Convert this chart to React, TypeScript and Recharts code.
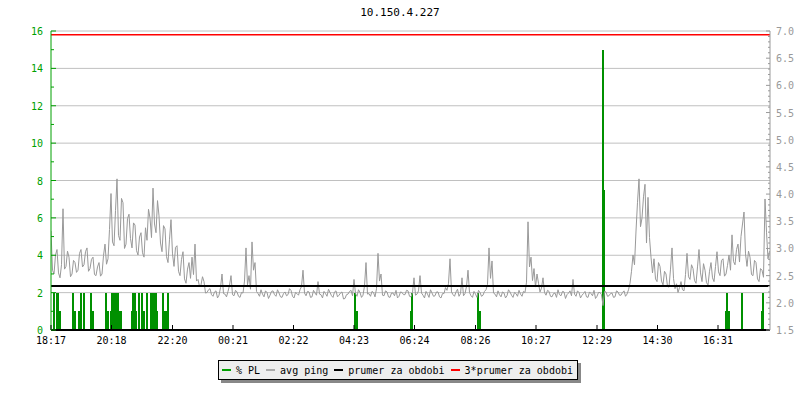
import React from 'react';
import { ComposedChart, Line, Bar, XAxis, YAxis, CartesianGrid, ReferenceLine } from 'recharts';

const GREEN = '#00a000';
const GRAY = '#999999';
const FONT = '"DejaVu Sans Mono", monospace';

// avg ping (ms), one sample every 3 minutes starting 18:17
const pingEvening = [
  3.32, 2.60, 2.53, 2.88, 2.98, 2.55, 2.46, 2.70, 3.73, 2.62,
  2.67, 2.95, 2.84, 2.48, 2.53, 2.78, 2.74, 2.56, 2.60, 2.91,
  2.98, 2.66, 2.70, 2.94, 3.01, 2.58, 2.63, 2.80, 2.84, 2.52,
  2.50, 2.66, 2.74, 2.49, 2.53, 2.87, 3.08, 2.71, 2.81, 3.35,
  4.01, 3.12, 3.05, 3.70, 4.28, 3.24, 3.15, 3.92, 3.84, 3.00,
  3.08, 3.55, 3.63, 3.18, 3.01, 3.47, 3.43, 2.96, 2.88, 3.21,
  3.29, 2.92, 2.84, 3.38, 3.15, 3.72, 3.56, 3.20, 4.11, 3.45,
  3.29, 3.88, 3.60, 3.10, 2.94, 3.42, 3.36, 2.85, 2.74, 3.17,
  3.53, 2.90, 2.67, 3.02, 3.05, 2.58, 2.50, 2.80, 2.94, 2.44,
  2.36, 2.62, 2.74, 2.45, 2.84, 2.52, 3.08, 2.40, 2.43, 2.30,
  2.33, 2.48, 2.39, 2.18,
];
const pingNight = [
  2.19, 2.24, 2.26, 2.15, 2.12, 2.20, 2.22, 2.09, 2.14, 2.28,
  2.53, 2.17, 2.16, 2.11, 2.21, 2.32, 2.50, 2.15, 2.13, 2.23,
  2.20, 2.12, 2.10, 2.19, 2.18, 2.40, 3.01, 2.33, 2.50, 2.25,
  3.12, 2.60, 2.74, 2.21, 2.17, 2.12, 2.24, 2.16, 2.11, 2.22,
  2.19, 2.08, 2.14, 2.21, 2.22, 2.15, 2.12, 2.24, 2.18, 2.11,
  2.10, 2.17, 2.20, 2.13, 2.15, 2.26, 2.23, 2.12, 2.09, 2.19,
  2.17, 2.14, 2.24, 2.30, 2.60, 2.18, 2.13, 2.21, 2.20, 2.10,
  2.11, 2.23, 2.18, 2.14, 2.39, 2.16, 2.15, 2.09, 2.21, 2.17,
  2.12, 2.25, 2.19, 2.13, 2.10, 2.20, 2.22, 2.11, 2.14, 2.18,
  2.20, 2.07, 2.08, 2.15, 2.16, 2.21, 2.23, 2.13, 2.43, 2.17,
  2.12, 2.24, 2.19, 2.10, 2.14, 2.31, 2.74, 2.16, 2.17, 2.12,
  2.21, 2.19, 2.11, 2.26, 2.91, 2.40, 2.53, 2.14, 2.13, 2.22,
  2.20, 2.11, 2.10, 2.18, 2.18, 2.13, 2.23, 2.09, 2.12, 2.20,
  2.19, 2.15, 2.15, 2.23, 2.22, 2.12,
];
const pingDay = [
  2.11, 2.19, 2.46, 2.14, 2.16, 2.22, 2.50, 2.18, 2.14, 2.09,
  2.21, 2.16, 2.10, 2.24, 2.18, 2.12, 2.13, 2.20, 2.20, 2.11,
  2.09, 2.17, 2.17, 2.28, 2.23, 2.36, 2.81, 2.20, 2.15, 2.12,
  2.20, 2.25, 2.12, 2.17, 2.46, 2.13, 2.17, 2.30, 2.60, 2.19,
  2.13, 2.10, 2.21, 2.16, 2.10, 2.23, 2.19, 2.12, 2.14, 2.21,
  2.24, 2.34, 3.01, 2.45, 2.77, 2.18, 2.16, 2.11, 2.22, 2.15,
  2.11, 2.20, 2.18, 2.09, 2.13, 2.24, 2.20, 2.14, 2.10, 2.19,
  2.17, 2.12, 2.23, 2.16, 2.12, 2.21, 2.19, 2.38, 3.49, 2.66,
  2.84, 2.41, 2.63, 2.29, 2.53, 2.36, 2.20, 2.27, 2.46, 2.19,
  2.14, 2.23, 2.21, 2.12, 2.11, 2.17, 2.18, 2.10, 2.24, 2.15,
  2.13, 2.21, 2.20, 2.08, 2.15, 2.18, 2.22, 2.13, 2.43, 2.16,
  2.12, 2.22, 2.19, 2.09, 2.14, 2.17, 2.21, 2.11, 2.10, 2.20,
  2.17, 2.13, 2.23, 2.08, 2.12, 2.19, 2.19, 2.15, 1.95, 2.21,
  2.20, 2.12, 2.13, 2.17, 2.18, 2.10, 2.11, 2.22, 2.20, 2.14,
  2.14, 2.19, 2.22, 2.12, 2.16, 2.24,
];
const pingAfternoon = [
  2.36, 2.58, 2.88, 2.70, 3.32, 3.85, 4.28, 3.40, 3.56, 3.95,
  4.18, 3.10, 3.94, 3.20, 2.84, 2.55, 2.81, 2.44, 2.39, 2.74,
  2.67, 2.40, 2.33, 2.58, 2.53, 2.30, 2.29, 2.62, 3.01, 2.45,
  2.26, 2.35, 2.19, 2.28, 2.39, 2.24, 2.22, 2.52, 2.91, 2.48,
  2.43, 2.70, 2.63, 2.41, 2.36, 2.66, 2.98, 2.55, 2.39, 2.72,
  2.60, 2.37, 2.33, 2.58, 2.74, 2.46, 2.39, 2.67, 2.94, 2.57,
  2.50, 2.78, 2.81, 2.49, 2.53, 2.69, 2.88, 2.60, 3.25, 2.76,
  2.70, 2.98, 3.08, 2.75, 3.22, 3.45, 3.67, 2.90, 2.67, 2.95,
  2.84, 2.52, 2.50, 2.78, 2.74, 2.44, 2.39, 2.63, 2.60, 2.47,
  3.91, 3.30, 2.81, 2.95,
];
const PING_STEP = 3;

// packet loss (%), minutes after 18:17 (same 3-minute grid)
const plMinutes = [
  6, 12, 15, 18, 45, 48, 57, 60, 66, 81, 84, 111, 114,
  120, 123, 126, 129, 132, 135, 138, 141, 162, 165, 168, 171, 177,
  183, 186, 192, 201, 204, 207, 210, 213, 225, 228, 231, 234,
  609, 612, 720, 723, 855, 858, 1104, 1107,
  1350, 1353, 1356, 1383, 1422, 1425,
];
const plValues = [
  2, 2, 2, 1, 2, 1, 1, 2, 2, 2, 1, 2, 1,
  1, 2, 2, 2, 2, 2, 1, 1, 1, 2, 2, 1, 2,
  2, 1, 2, 2, 2, 2, 2, 1, 2, 1, 1, 2,
  2, 1, 1, 2, 2, 1, 15, 7.5,
  1, 2, 1, 2, 1, 2,
];

const prumer = 2.31;

const timeTicks = [0, 121, 243, 364, 485, 606, 727, 849, 970, 1092, 1213, 1334];
const timeLabels = ['18:17', '20:18', '22:20', '00:21', '02:22', '04:23', '06:24', '08:26', '10:27', '12:29', '14:30', '16:31'];
const leftTicks = [0, 1, 2, 3, 4, 5, 6, 7, 8, 9, 10, 11, 12, 13, 14, 15, 16];
const gridValues = [2, 4, 6, 8, 10, 12, 14, 16];
const rightTicks = Array.from({ length: 56 }, (_, i) => Math.round((1.5 + i * 0.1) * 10) / 10);

const legendItems = [
  { label: '% PL', color: GREEN },
  { label: 'avg ping', color: '#aaaaaa' },
  { label: 'prumer za obdobi', color: '#000000' },
  { label: '3*prumer za obdobi', color: '#ff0000' },
];

const ping = [...pingEvening, ...pingNight, ...pingDay, ...pingAfternoon];
const rows = new Map<number, any>();
ping.forEach((v, i) => rows.set(i * PING_STEP, { t: i * PING_STEP, ping: v }));
plMinutes.forEach((m, i) => {
  const r = rows.get(m) || { t: m };
  r.pl = plValues[i];
  rows.set(m, r);
});
const data = [...rows.values()].sort((a, b) => a.t - b.t);

const TimeTick = (props: any) => {
  const { x, y, payload } = props;
  const idx = timeTicks.indexOf(payload.value);
  return (
    <g>
      <line x1={x} x2={x} y1={y - 5} y2={y} stroke="#000" />
      <text x={x} y={y + 14} textAnchor="middle" fontSize={10} fontFamily={FONT} fill="#000">
        {timeLabels[idx]}
      </text>
    </g>
  );
};

const LeftTick = (props: any) => {
  const { x, y, payload } = props;
  const major = payload.value % 2 === 0;
  return (
    <g>
      <line x1={x} x2={x + (major ? 5 : 3)} y1={y} y2={y} stroke={GREEN} />
      {major && (
        <text x={x - 8} y={y + 4} textAnchor="end" fontSize={10} fontFamily={FONT} fill={GREEN}>
          {payload.value}
        </text>
      )}
    </g>
  );
};

const RightTick = (props: any) => {
  const { x, y, payload } = props;
  const v = payload.value;
  const major = Math.abs(v * 2 - Math.round(v * 2)) < 1e-6;
  return (
    <g>
      <line x1={x - (major ? 4 : 2)} x2={x} y1={y} y2={y} stroke={GRAY} />
      {major && (
        <text x={x + 6} y={y + 4} textAnchor="start" fontSize={10} fontFamily={FONT} fill={GRAY}>
          {v.toFixed(1)}
        </text>
      )}
    </g>
  );
};

// rrdtool-like solid bar, snapped to whole pixels
const PlBar = (props: any) => {
  const { x, y, width, height } = props;
  const left = Math.floor(x + width / 2 - 0.5);
  return <rect x={left} y={y} width={2} height={height} fill="#009000" shapeRendering="crispEdges" />;
};

export default function App() {
  return (
    <div style={{ position: 'absolute', left: 0, top: 0, width: 800, height: 400, background: '#fff', fontFamily: FONT }}>
      <div style={{ position: 'absolute', left: 0, top: 6, width: 800, textAlign: 'center', fontSize: 11, lineHeight: '14px', color: '#000' }}>
        10.150.4.227
      </div>
      <ComposedChart width={800} height={400} data={data} margin={{ top: 31, right: 0, left: 0, bottom: 40 }}>
        <CartesianGrid yAxisId="left" vertical={false} stroke="#c0c0c0" horizontalValues={gridValues} />
        <XAxis
          dataKey="t"
          type="number"
          domain={[0, 1438]}
          ticks={timeTicks}
          interval={0}
          height={30}
          tickSize={0}
          tickMargin={0}
          tickLine={false}
          axisLine={{ stroke: '#000', strokeWidth: 2 }}
          tick={(p: any) => <TimeTick {...p} />}
          allowDataOverflow
        />
        <YAxis
          yAxisId="left"
          domain={[0, 16]}
          ticks={leftTicks}
          interval={0}
          width={51}
          tickSize={0}
          tickMargin={0}
          tickLine={false}
          axisLine={{ stroke: GREEN }}
          tick={(p: any) => <LeftTick {...p} />}
        />
        <YAxis
          yAxisId="right"
          orientation="right"
          domain={[1.5, 7]}
          ticks={rightTicks}
          interval={0}
          width={30}
          tickSize={0}
          tickMargin={0}
          tickLine={false}
          axisLine={{ stroke: GRAY }}
          tick={(p: any) => <RightTick {...p} />}
          allowDataOverflow
        />
        <Line
          yAxisId="right"
          dataKey="ping"
          stroke={GRAY}
          strokeWidth={1}
          dot={false}
          connectNulls
          isAnimationActive={false}
        />
        <Bar yAxisId="left" dataKey="pl" fill="#009000" barSize={1.5} shape={PlBar} isAnimationActive={false} />
        <ReferenceLine yAxisId="right" y={prumer} stroke="#000" strokeWidth={2} />
        <ReferenceLine yAxisId="right" y={prumer * 3} stroke="#ff0000" strokeWidth={1.5} />
      </ComposedChart>
      <div
        style={{
          position: 'absolute',
          left: 218,
          top: 360,
          width: 360,
          height: 20,
          background: '#eeeeee',
          border: '1px solid #000',
          boxShadow: '3px 3px 0 #888',
          display: 'flex',
          alignItems: 'center',
          paddingLeft: 3,
          boxSizing: 'border-box',
          fontSize: 10,
          whiteSpace: 'nowrap',
        }}
      >
        {legendItems.map((it) => (
          <div key={it.label} style={{ display: 'flex', alignItems: 'center', marginRight: 6 }}>
            <span style={{ display: 'inline-block', width: 9, height: 2, background: it.color, marginRight: 5 }} />
            <span>{it.label}</span>
          </div>
        ))}
      </div>
    </div>
  );
}
